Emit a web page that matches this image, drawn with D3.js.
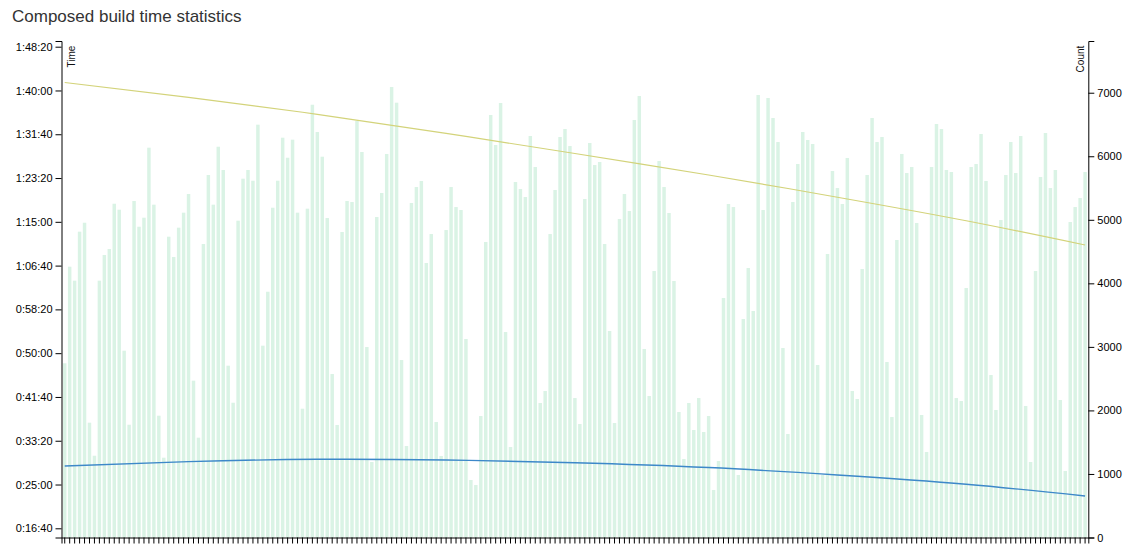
<!DOCTYPE html>
<html>
<head>
<meta charset="utf-8">
<script src="https://cdn.jsdelivr.net/npm/d3@7"></script>
<style>
  body { margin: 0; background: #fff; }
  text { font-family: "Liberation Sans", Arial, sans-serif; }
</style>
</head>
<body>
<svg id="chart"></svg>
<script>
// bar values (count axis), one per build slot
const counts = [
  2742, 4262, 4042, 4813, 4954, 1807, 1287, 4042, 4446, 4540,
  5253, 5159, 2940, 1775, 5296, 4891, 5033, 6135, 5238, 1917,
  1256, 4734, 4415, 4876, 5112, 5406, 2468, 1571, 4619, 5705,
  5238, 6150, 5784, 2704, 2121, 4986, 5647, 5784, 5615, 6497,
  3019, 3868, 5190, 5615, 6292, 5977, 6261, 5112, 2027, 5175,
  6811, 6382, 5993, 5028, 2573, 1771, 4808, 5296, 5280, 6555,
  6067, 2998, 1188, 5044, 5422, 6036, 7090, 6843, 2793, 1440,
  5264, 5516, 5611, 4320, 4776, 1818, 1283, 4839, 5516, 5201,
  5154, 3124, 905, 826, 1912, 4651, 6649, 6177, 6838, 3234,
  1424, 5595, 5485, 5359, 6319, 5831, 2117, 2306, 4776, 5469,
  6303, 6429, 6161, 2195, 1786, 5327, 6209, 5862, 5910, 4619,
  3250, 1802, 5013, 5406, 5138, 6571, 6948, 2967, 2227, 4194,
  5925, 5516, 5107, 4037, 1975, 1235, 2117, 1692, 2195, 1660,
  1912, 748, 1204, 3769, 5249, 5201, 984, 3439, 4241, 3565,
  6964, 5154, 6917, 6602, 6224, 2982, 1629, 5280, 5878, 6382,
  6256, 6193, 2715, 984, 4462, 5768, 5500, 5249, 5973, 2306,
  2180, 4226, 5705, 6602, 6224, 6303, 2762, 1896, 4682, 6036,
  5736, 5831, 4950, 1928, 1346, 5831, 6508, 6429, 5784, 5752,
  2195, 2148, 3927, 5831, 5878, 6350, 5611, 2557, 2007, 4997,
  5705, 6224, 5736, 6319, 2070, 1188, 4194, 5674, 6366, 5500,
  5784, 2164, 1047, 4965, 5201, 5343, 5752
];
const categories = d3.range(1, counts.length + 1);

// trend lines (time axis, seconds), read at these bar slots
const trendSlots = [1, 26, 52, 78, 104, 131, 157, 183, 207];
const trendUpper = [6091, 5922, 5728, 5511, 5280, 5035, 4781, 4512, 4235];
const trendLower = [1712, 1761, 1788, 1780, 1749, 1694, 1609, 1503, 1369];

// axis ticks
const timeTicks = [1000, 1500, 2000, 2500, 3000, 3500, 4000, 4500, 5000, 5500, 6000, 6500];
const countTicks = [0, 1000, 2000, 3000, 4000, 5000, 6000, 7000];

const dim = { width: 1138, height: 545, left: 61.5, right: 1088.3, top: 41, bottom: 537.5 };

const svg = d3.select('#chart')
  .attr('width', dim.width)
  .attr('height', dim.height);

svg.append('text')
  .attr('x', 12)
  .attr('y', 22)
  .attr('fill', '#333')
  .style('font-size', '17px')
  .text('Composed build time statistics');

const x = d3.scaleBand()
  .domain(categories)
  .range([dim.left, dim.right])
  .paddingInner(0.3)
  .paddingOuter(0.3);

const yTime = d3.scaleLinear()
  .domain([895, 6565])
  .range([dim.bottom, dim.top]);

const yCount = d3.scaleLinear()
  .domain([0, 7814])
  .range([dim.bottom, dim.top]);

// formats seconds as h:mm:ss
function formatTime(s) {
  const h = Math.floor(s / 3600);
  const m = Math.floor((s % 3600) / 60);
  const sec = Math.round(s % 60);
  return `${h}:${String(m).padStart(2, '0')}:${String(sec).padStart(2, '0')}`;
}

// bars
svg.append('g')
  .selectAll('rect')
  .data(counts)
  .join('rect')
  .attr('x', (d, i) => x(categories[i]))
  .attr('y', d => yCount(d))
  .attr('width', x.bandwidth())
  .attr('height', d => yCount(0) - yCount(d))
  .attr('fill', '#daf3e5');

// trend lines
const trendLine = d3.line()
  .x((d, i) => x(trendSlots[i]) + x.bandwidth() / 2)
  .y(d => yTime(d))
  .curve(d3.curveNatural);

svg.append('path')
  .datum(trendUpper)
  .attr('d', trendLine)
  .attr('fill', 'none')
  .attr('stroke', '#d3d37a')
  .attr('stroke-width', 1.2);

svg.append('path')
  .datum(trendLower)
  .attr('d', trendLine)
  .attr('fill', 'none')
  .attr('stroke', '#3d88c9')
  .attr('stroke-width', 1.4);

// axes
const leftAxis = svg.append('g')
  .attr('transform', `translate(${dim.left},0)`)
  .call(d3.axisLeft(yTime).tickValues(timeTicks).tickFormat(formatTime));

const rightAxis = svg.append('g')
  .attr('transform', `translate(${dim.right},0)`)
  .call(d3.axisRight(yCount).tickValues(countTicks).tickFormat(d3.format('d')));

const bottomAxis = svg.append('g')
  .attr('transform', `translate(0,${dim.bottom})`)
  .call(d3.axisBottom(x).tickFormat(''));

[leftAxis, rightAxis, bottomAxis].forEach(a => {
  a.selectAll('text')
    .attr('fill', '#000')
    .style('font-family', '"Liberation Sans", Arial, sans-serif')
    .style('font-size', '11px');
  a.selectAll('path, line').attr('stroke', '#000');
});

// axis titles
svg.append('text')
  .attr('transform', `translate(${dim.left + 13.3},${dim.top + 4.7}) rotate(-90)`)
  .attr('text-anchor', 'end')
  .attr('fill', '#111')
  .style('font-size', '10px')
  .text('Time');

svg.append('text')
  .attr('transform', `translate(${dim.right - 4.8},${dim.top + 4.7}) rotate(-90)`)
  .attr('text-anchor', 'end')
  .attr('fill', '#111')
  .style('font-size', '10px')
  .text('Count');
</script>
</body>
</html>
